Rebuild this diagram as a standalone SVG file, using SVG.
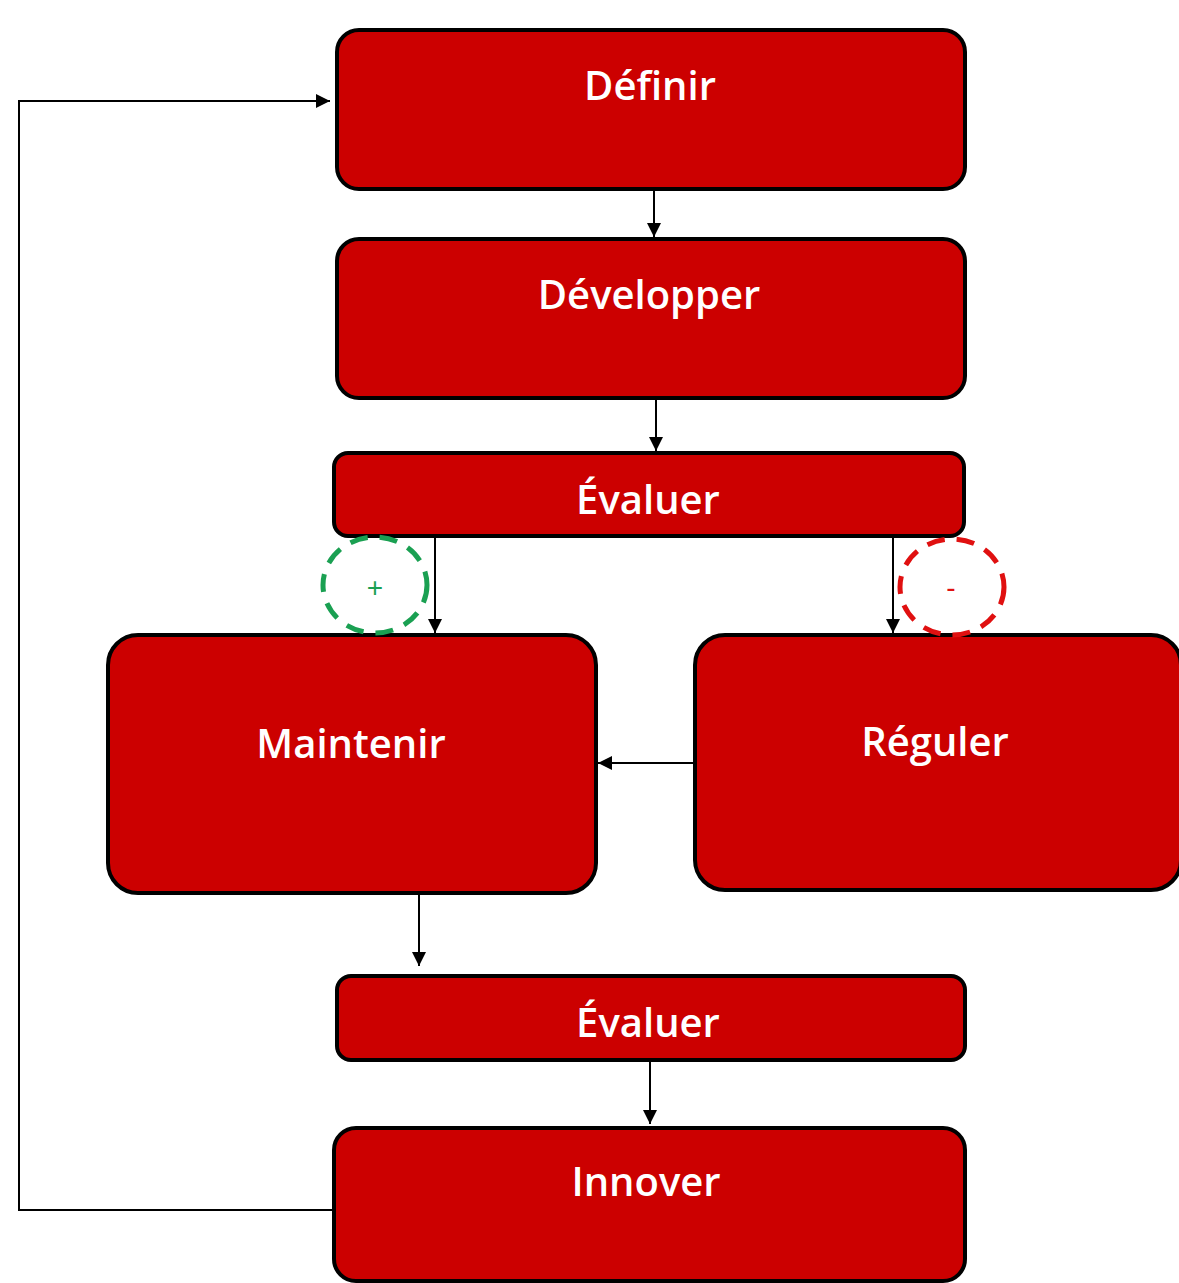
<svg xmlns="http://www.w3.org/2000/svg" width="1179" height="1283" viewBox="0 0 1179 1283">
<style>
.box{fill:#cc0000;stroke:#000;stroke-width:4}
.lbl{font-family:"Open Sans","DejaVu Sans",sans-serif;font-weight:600;font-size:40px;fill:#fff;text-anchor:middle}
.con{fill:none;stroke:#000;stroke-width:2}
</style>
<defs>
<marker id="arr" viewBox="0 0 10 10" refX="10" refY="5" markerWidth="8" markerHeight="8" markerUnits="userSpaceOnUse" orient="auto">
<path d="M0,0 L10,5 L0,10 Z" fill="#000"/>
</marker>
<marker id="arrB" viewBox="0 0 10 10" refX="10" refY="5" markerWidth="14" markerHeight="14" markerUnits="userSpaceOnUse" orient="auto">
<path d="M0,0 L10,5 L0,10 Z" fill="#000"/>
</marker>
</defs>
<rect width="1179" height="1283" fill="#fff"/>
<g id="connectors">
<path class="con" d="M654,190 V237" marker-end="url(#arrB)"/>
<path class="con" d="M656,399 V451" marker-end="url(#arrB)"/>
<path class="con" d="M435,537 V633" marker-end="url(#arrB)"/>
<path class="con" d="M893,537 V633" marker-end="url(#arrB)"/>
<path class="con" d="M694,763 H598" marker-end="url(#arrB)"/>
<path class="con" d="M419,894 V966" marker-end="url(#arrB)"/>
<path class="con" d="M650,1061 V1124" marker-end="url(#arrB)"/>
<path class="con" d="M333,1210 H19 V101 H330" marker-end="url(#arrB)"/>
</g>
<g id="definir"><rect class="box" x="337" y="30" width="628" height="159" rx="22"/><text class="lbl" x="650" y="100">Définir</text></g>
<g id="developper"><rect class="box" x="337" y="239" width="628" height="159" rx="22"/><text class="lbl" x="649" y="309">Développer</text></g>
<g id="evaluer1"><rect class="box" x="334" y="453" width="630" height="83" rx="14"/><text class="lbl" x="648" y="514">Évaluer</text></g>
<g id="maintenir"><rect class="box" x="108" y="635" width="488" height="258" rx="30"/><text class="lbl" x="351" y="758">Maintenir</text></g>
<g id="reguler"><rect class="box" x="695" y="635" width="486" height="255" rx="30"/><text class="lbl" x="935" y="756">Réguler</text></g>
<g id="evaluer2"><rect class="box" x="337" y="976" width="628" height="84" rx="14"/><text class="lbl" x="648" y="1037">Évaluer</text></g>
<g id="innover"><rect class="box" x="334" y="1128" width="631" height="153" rx="22"/><text class="lbl" x="646" y="1196">Innover</text></g>
<g id="plus">
<ellipse cx="375" cy="585" rx="52" ry="48" fill="none" stroke="#1aa052" stroke-width="5" stroke-dasharray="18,12"/>
<text x="375" y="597" font-family="Liberation Sans, sans-serif" font-size="28" fill="#1aa052" text-anchor="middle">+</text>
</g>
<g id="minus">
<ellipse cx="952" cy="587" rx="52" ry="48" fill="none" stroke="#e01010" stroke-width="5" stroke-dasharray="18,12"/>
<text x="951" y="597" font-family="Liberation Sans, sans-serif" font-size="28" fill="#e01010" text-anchor="middle">-</text>
</g>
</svg>
